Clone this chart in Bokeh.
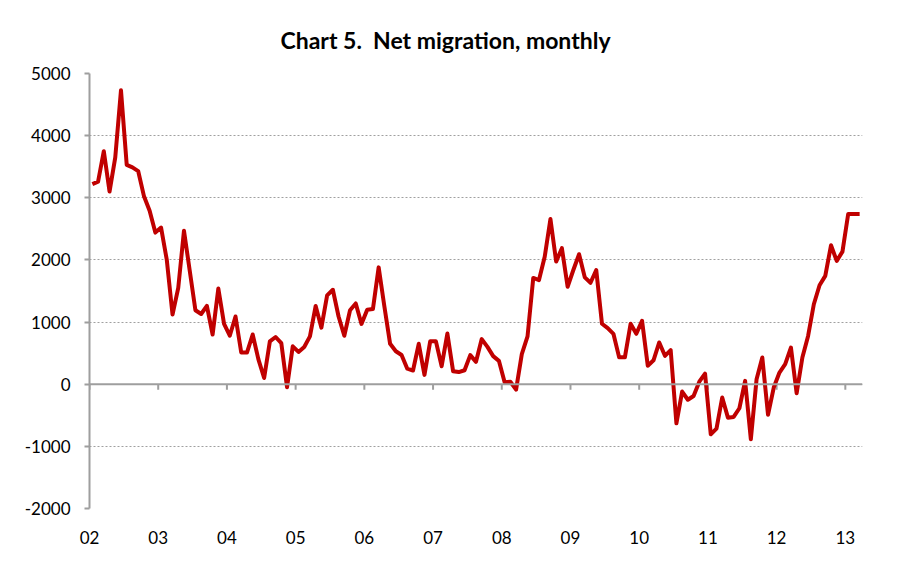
from bokeh.plotting import figure
from bokeh.models import Range1d, FixedTicker, Span, ColumnDataSource
from bokeh.embed import file_html
from bokeh.resources import INLINE

start_year = 2002
years = list(range(2002, 2014))
year_labels = ["02", "03", "04", "05", "06", "07", "08", "09", "10", "11", "12", "13"]
y_ticks = [-2000, -1000, 0, 1000, 2000, 3000, 4000, 5000]
y_tick_labels = ["-2000", "-1000", "0", "1000", "2000", "3000", "4000", "5000"]

# Net migration, monthly, Jan 2002 - Mar 2013
net_migration = [
    3220, 3260, 3750, 3100, 3650, 4730, 3530, 3490, 3430, 3030, 2790, 2440,   # 2002
    2520, 2000, 1120, 1550, 2470, 1830, 1190, 1130, 1260, 800, 1540, 970,     # 2003
    780, 1090, 510, 510, 800, 400, 100, 690, 760, 660, -50, 610,              # 2004
    520, 600, 770, 1260, 910, 1430, 1520, 1090, 780, 1190, 1300, 970,         # 2005
    1200, 1210, 1880, 1250, 650, 530, 470, 250, 220, 650, 150, 690,           # 2006
    690, 290, 815, 210, 195, 225, 468, 360, 726, 600, 452, 376,               # 2007
    30, 40, -86, 484, 770, 1710, 1676, 2050, 2659, 1973, 2189, 1568,          # 2008
    1838, 2092, 1719, 1632, 1838, 973, 903, 811, 432, 432, 973, 811,          # 2009
    1020, 296, 385, 672, 457, 548, -630, -118, -250, -190, 40, 172,           # 2010
    -806, -715, -215, -538, -527, -387, 54, -886, 80, 429, -493, -54,         # 2011
    188, 322, 590, -145, 429, 777, 1287, 1592, 1743, 2236, 1984, 2134,        # 2012
    2740, 2740, 2740,                                                          # 2013
]

x_vals = [start_year + (i + 0.5) / 12.0 for i in range(len(net_migration))]
src = ColumnDataSource(dict(x=x_vals, y=net_migration))

p = figure(width=880, height=570, output_backend="svg", toolbar_location=None,
           x_range=Range1d(2002, 2002 + len(net_migration) / 12.0),
           y_range=Range1d(-2000, 5000),
           min_border_left=89, min_border_right=18, min_border_top=73, min_border_bottom=62)

p.title.text = "Chart 5.\u00a0 Net migration, monthly"
p.title.align = "left"
p.title.offset = 191
p.title.text_font = "Lato"
p.title.text_font_style = "bold"
p.title.text_font_size = "23px"
p.title.text_color = "black"
p.title.standoff = 40

p.outline_line_color = None
p.background_fill_color = "white"
p.border_fill_color = "white"

# grid
p.xgrid.grid_line_color = None
p.ygrid.ticker = FixedTicker(ticks=y_ticks)
p.ygrid.grid_line_color = "#a0a0a0"
p.ygrid.grid_line_dash = "2 2"
p.ygrid.grid_line_width = 1

# y axis
p.yaxis.ticker = FixedTicker(ticks=y_ticks)
p.yaxis.major_label_overrides = {t: lab for t, lab in zip(y_ticks, y_tick_labels)}
p.yaxis.axis_line_color = "#9e9e9e"
p.yaxis.axis_line_width = 2
p.yaxis.major_tick_line_color = "#9e9e9e"
p.yaxis.major_tick_line_width = 2
p.yaxis.major_tick_out = 5
p.yaxis.major_tick_in = 0
p.yaxis.minor_tick_line_color = None
p.yaxis.major_label_text_font = "Lato"
p.yaxis.major_label_text_font_size = "17px"
p.yaxis.major_label_text_color = "black"
p.yaxis.major_label_standoff = 14

# x axis (labels only, at the bottom)
p.xaxis.ticker = FixedTicker(ticks=years)
p.xaxis.major_label_overrides = {y: lab for y, lab in zip(years, year_labels)}
p.xaxis.axis_line_color = None
p.xaxis.major_tick_line_color = None
p.xaxis.minor_tick_line_color = None
p.xaxis.major_label_text_font = "Lato"
p.xaxis.major_label_text_font_size = "17px"
p.xaxis.major_label_text_color = "black"
p.xaxis.major_label_standoff = 16

# zero line with year ticks
p.add_layout(Span(location=0, dimension="width", line_color="#9e9e9e", line_width=2))
p.segment(x0=years, y0=[0] * len(years), x1=years, y1=[-90] * len(years),
          line_color="#9e9e9e", line_width=2)

p.line("x", "y", source=src, line_color="#c00000", line_width=4, line_join="round")

open("out.html", "w").write(file_html(p, INLINE))
